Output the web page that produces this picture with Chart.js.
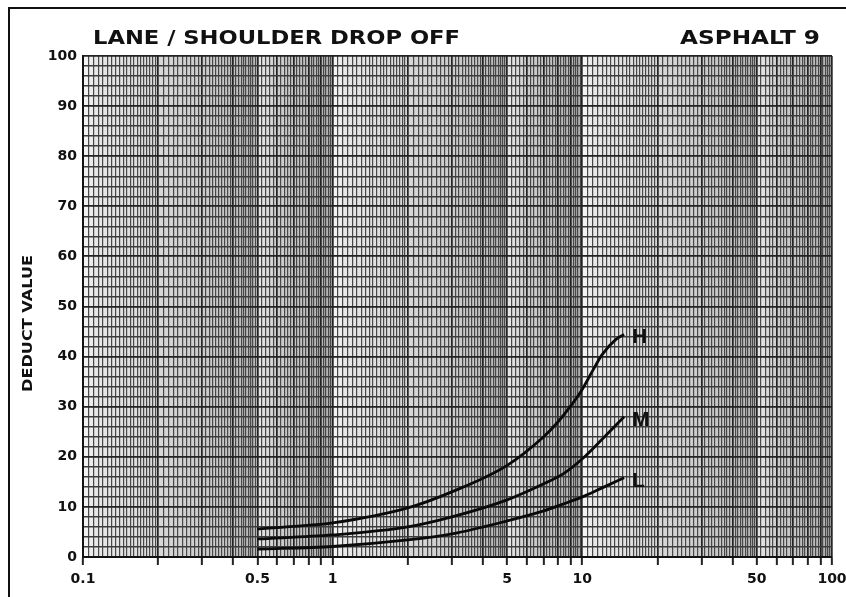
<!DOCTYPE html>
<html>
<head>
<meta charset="utf-8">
<script src="https://cdn.jsdelivr.net/npm/chart.js@4.4.0/dist/chart.umd.min.js"></script>
<style>
  html, body { margin: 0; background: #fff; }
  #wrap { width: 846px; height: 597px; position: relative; }
</style>
</head>
<body>
<div id="wrap"><canvas id="chart" width="846" height="597"></canvas></div>
<script>
// values
const xTickLabels = [0.1, 0.5, 1, 5, 10, 50, 100];
const yTickLabels = [0, 10, 20, 30, 40, 50, 60, 70, 80, 90, 100];

const hX = [0.5, 0.7, 1, 2, 3, 5, 7, 8, 9, 10, 11, 12, 13.6, 14.7];
const hY = [5.6, 6.1, 6.8, 9.8, 13, 18.3, 24, 27, 30.2, 33.5, 37.2, 40.4, 43.4, 44.4];
const mX = [0.5, 1, 2, 3, 5, 7, 8.5, 10, 12, 14.7];
const mY = [3.6, 4.4, 6, 8, 11.4, 14.6, 16.8, 19.6, 23.5, 28];
const lX = [0.5, 1, 2, 3, 5, 7, 8.3, 10, 12, 14.7];
const lY = [1.6, 2.1, 3.4, 4.6, 7.2, 9.2, 10.5, 12, 13.8, 15.8];
const curveNames = ['H', 'M', 'L'];

// log paper rulings: fine in 1-2, coarser 2-5, coarser again 5-10 of each decade
const xGrid = [];
[0.1, 1, 10].forEach(d => {
    for (let i = 0; i < 20; i++) xGrid.push(d * (1 + i * 0.05));
    for (let i = 0; i < 30; i++) xGrid.push(d * (2 + i * 0.1));
    for (let i = 0; i < 25; i++) xGrid.push(d * (5 + i * 0.2));
});
xGrid.push(100);
const xVals = xGrid.map(v => Math.round(v * 1e6) / 1e6);

const mantissa = v => {
    const m = v / Math.pow(10, Math.floor(Math.log10(v) + 1e-9));
    return Math.round(m * 1000) / 1000;
};
const isMajor = v => Number.isInteger(mantissa(v));

const pts = (xs, ys) => xs.map((x, i) => ({ x: x, y: ys[i] }));

// shading of the scanned sheet inside one decade: [mantissa, grey]
const shade = [[1, '#f6f6f6'], [1.12, '#e8e8e8'], [2, '#d8d8d8'], [4, '#c4c4c4'], [4.9, '#b6b6b6'],
               [5.05, '#e6e6e6'], [6, '#cecece'], [9, '#b8b8b8'], [9.9, '#b0b0b0']];

const paperPlugin = {
    id: 'paper',
    beforeDraw(chart) {
        const { ctx, chartArea: a } = chart;
        const xs = chart.scales.x;
        const g = ctx.createLinearGradient(a.left, 0, a.right, 0);
        const w = a.right - a.left;
        [0.1, 1, 10].forEach(d => {
            shade.forEach(([m, c]) => {
                const p = (xs.getPixelForValue(d * m) - a.left) / w;
                g.addColorStop(Math.min(1, Math.max(0, p)), c);
            });
        });
        ctx.save();
        ctx.fillStyle = g;
        ctx.fillRect(a.left, a.top, w, a.bottom - a.top);
        ctx.restore();
    },
    afterDraw(chart) {
        const ctx = chart.ctx;
        const fit = (txt, x, y, w, font) => {
            ctx.font = font;
            const mw = ctx.measureText(txt).width;
            ctx.save();
            ctx.translate(x, y);
            ctx.scale(w / mw, 1);
            ctx.fillText(txt, 0, 0);
            ctx.restore();
        };
        ctx.save();
        ctx.fillStyle = '#111';
        ctx.textBaseline = 'middle';
        ctx.textAlign = 'left';
        fit('LANE / SHOULDER DROP OFF', 93, 39, 367, 'bold 19px "DejaVu Sans"');
        fit('ASPHALT 9', 680, 39, 140, 'bold 19px "DejaVu Sans"');

        // y title
        ctx.save();
        ctx.translate(28, 324);
        ctx.rotate(-Math.PI / 2);
        fit('DEDUCT VALUE', -68, 0, 137, 'bold 14px "DejaVu Sans"');
        ctx.restore();

        // curve labels
        const xs = chart.scales.x, ys = chart.scales.y;
        ctx.font = 'bold 21px "Liberation Sans"';
        chart.data.datasets.forEach((ds, i) => {
            const last = ds.data[ds.data.length - 1];
            ctx.fillText(curveNames[i], xs.getPixelForValue(last.x) + 8, ys.getPixelForValue(last.y) + 3);
        });

        // frame of the scanned sheet
        ctx.strokeStyle = '#111';
        ctx.lineWidth = 2;
        ctx.beginPath();
        ctx.moveTo(9, 597);
        ctx.lineTo(9, 8);
        ctx.lineTo(846, 8);
        ctx.stroke();
        ctx.restore();
    }
};

const lineStyle = { borderColor: '#0a0a0a', borderWidth: 2.8, pointRadius: 0, showLine: true, fill: false, cubicInterpolationMode: 'monotone' };

new Chart(document.getElementById('chart'), {
    type: 'scatter',
    data: {
        datasets: [
            Object.assign({ label: 'H', data: pts(hX, hY) }, lineStyle),
            Object.assign({ label: 'M', data: pts(mX, mY) }, lineStyle),
            Object.assign({ label: 'L', data: pts(lX, lY) }, lineStyle)
        ]
    },
    options: {
        responsive: false, animation: false, devicePixelRatio: 1,
        layout: { padding: { top: 56, right: 14, left: 0, bottom: 0 } },
        plugins: { legend: { display: false }, tooltip: { enabled: false } },
        scales: {
            x: {
                type: 'logarithmic', min: 0.1, max: 100,
                afterBuildTicks: (s) => { s.ticks = xVals.map(v => ({ value: v })); },
                afterFit: (s) => { s.height = 40; s.paddingLeft = 0; s.paddingRight = 0; },
                border: { color: '#111', width: 2 },
                grid: {
                    color: (c) => isMajor(c.tick.value) ? '#222' : '#484848',
                    lineWidth: (c) => isMajor(c.tick.value) ? 1.7 : 1.2,
                    tickColor: (c) => isMajor(c.tick.value) ? '#222' : 'rgba(0,0,0,0)',
                    tickWidth: 2,
                    tickLength: 8
                },
                ticks: {
                    autoSkip: false, maxRotation: 0, padding: 6,
                    color: '#111', font: { family: 'DejaVu Sans', size: 14, weight: 'bold' },
                    callback: (v) => xTickLabels.some(t => Math.abs(t - v) < 1e-6) ? String(v) : ''
                }
            },
            y: {
                min: 0, max: 100,
                afterBuildTicks: (s) => {
                    const t = [];
                    for (let v = 0; v <= 100; v += 2) t.push({ value: v });
                    s.ticks = t;
                },
                afterFit: (s) => { s.width = 83; s.paddingTop = 0; s.paddingBottom = 0; },
                border: { color: '#111', width: 2 },
                grid: {
                    color: (c) => c.tick.value % 10 === 0 ? '#222' : '#3c3c3c',
                    lineWidth: (c) => c.tick.value % 10 === 0 ? 1.8 : 1.4,
                    tickLength: 2, tickColor: 'rgba(0,0,0,0)'
                },
                ticks: {
                    autoSkip: false, padding: 4,
                    color: '#111', font: { family: 'DejaVu Sans', size: 14, weight: 'bold' },
                    callback: (v) => yTickLabels.includes(v) ? String(v) : ''
                }
            }
        }
    },
    plugins: [paperPlugin]
});
</script>
</body>
</html>
